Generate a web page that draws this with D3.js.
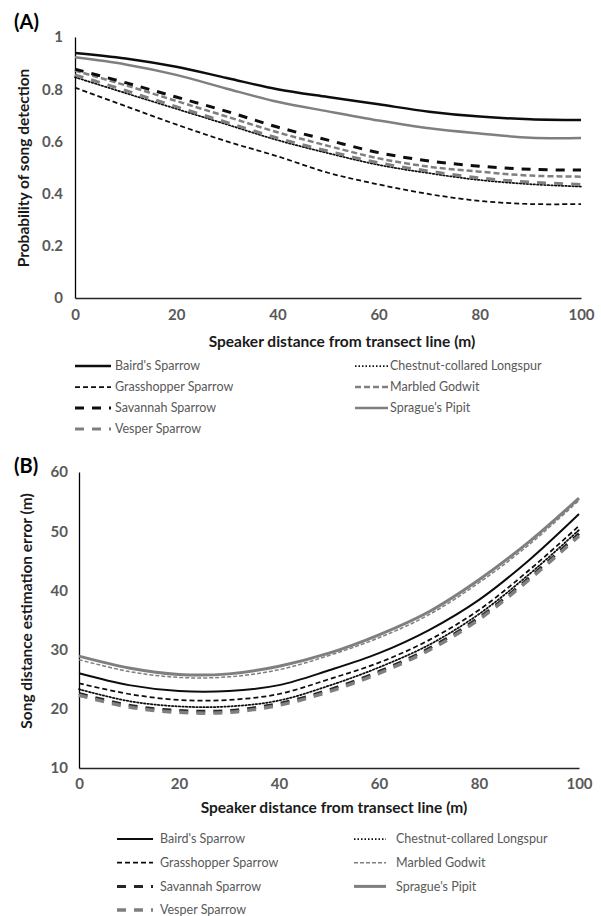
<!DOCTYPE html>
<html><head><meta charset="utf-8">
<script src="https://cdn.jsdelivr.net/npm/d3@7"></script>
<style>
body{margin:0;background:#fff}
svg{display:block;background:#fff}
text{font-family:Lato,"Open Sans",sans-serif}
</style>
</head><body>
<svg id="chart" width="601" height="916"></svg>
<script>
// ---------- data ----------
const distances = [0, 10, 20, 30, 40, 50, 60, 70, 80, 90, 100];
const species = ["Baird's Sparrow", "Chestnut-collared Longspur", "Grasshopper Sparrow",
                 "Marbled Godwit", "Savannah Sparrow", "Sprague's Pipit", "Vesper Sparrow"];

// (A) probability of song detection
const detBaird     = [0.939, 0.918, 0.886, 0.843, 0.800, 0.770, 0.742, 0.714, 0.695, 0.685, 0.682];
const detChestnut  = [0.846, 0.785, 0.725, 0.665, 0.605, 0.555, 0.510, 0.478, 0.452, 0.436, 0.427];
const detGrass     = [0.806, 0.735, 0.665, 0.600, 0.543, 0.480, 0.435, 0.398, 0.372, 0.360, 0.360];
const detMarbled   = [0.871, 0.815, 0.755, 0.695, 0.635, 0.583, 0.535, 0.503, 0.484, 0.469, 0.465];
const detSavannah  = [0.877, 0.825, 0.770, 0.715, 0.655, 0.605, 0.557, 0.525, 0.505, 0.493, 0.490];
const detSprague   = [0.922, 0.895, 0.855, 0.802, 0.752, 0.715, 0.680, 0.650, 0.630, 0.614, 0.613];
const detVesper    = [0.855, 0.795, 0.733, 0.673, 0.613, 0.563, 0.518, 0.486, 0.460, 0.444, 0.435];

// (B) song distance estimation error (m)
const errBaird     = [26.0, 24.0, 23.0, 23.0, 24.0, 26.5, 29.4, 33.3, 38.4, 45.1, 52.9];
const errChestnut  = [23.3, 21.3, 20.4, 20.4, 21.4, 23.9, 27.0, 30.8, 36.0, 42.7, 50.2];
const errGrass     = [24.3, 22.5, 21.5, 21.5, 22.5, 25.0, 27.8, 31.6, 36.7, 43.4, 50.9];
const errMarbled   = [28.3, 26.3, 25.3, 25.4, 26.6, 29.0, 32.0, 35.9, 41.3, 47.7, 55.2];
const errSavannah  = [22.6, 20.6, 19.7, 19.7, 20.9, 23.2, 26.3, 30.2, 35.4, 42.1, 49.6];
const errSprague   = [28.9, 26.9, 25.8, 25.9, 27.2, 29.4, 32.5, 36.4, 41.8, 48.2, 55.6];
const errVesper    = [22.3, 20.3, 19.4, 19.4, 20.6, 22.9, 26.0, 29.9, 35.1, 41.8, 49.2];

const detTicks  = [0, 0.2, 0.4, 0.6, 0.8, 1];
const errTicks  = [10, 20, 30, 40, 50, 60];
const distTicks = [0, 20, 40, 60, 80, 100];

const detectionSeries = [detBaird, detChestnut, detGrass, detMarbled, detSavannah, detSprague, detVesper];
const errorSeries     = [errBaird, errChestnut, errGrass, errMarbled, errSavannah, errSprague, errVesper];

// ---------- styles ----------
const BLACK = "#0d0d0d", GRAY = "#7f7f7f";
const stylesA = [
  {c: BLACK, w: 2.5,  d: null},
  {c: BLACK, w: 1.75, d: "1.5,2"},
  {c: BLACK, w: 1.75, d: "5,3"},
  {c: GRAY,  w: 2.5,  d: "6,3"},
  {c: BLACK, w: 3,    d: "9,8"},
  {c: GRAY,  w: 2.5,  d: null},
  {c: GRAY,  w: 3,    d: "9,8"}
];
const stylesB = [
  {c: BLACK, w: 2,    d: null},
  {c: BLACK, w: 1.75, d: "1.5,2"},
  {c: BLACK, w: 1.75, d: "5,3"},
  {c: GRAY,  w: 1.5,  d: "4,2"},
  {c: "#262626", w: 3, d: "9,8"},
  {c: GRAY,  w: 3,    d: null},
  {c: GRAY,  w: 3.5,  d: "9,8"}
];

const svg = d3.select("#chart");

function drawPanel(cfg) {
  const g = svg.append("g");
  const x = d3.scaleLinear().domain([0, 100]).range([cfg.left, cfg.right]);
  const y = d3.scaleLinear().domain(cfg.yDomain).range([cfg.bottom, cfg.top]);

  // y axis
  const ya = g.append("g").attr("transform", `translate(${cfg.left},0)`)
    .call(d3.axisLeft(y).tickValues(cfg.yTicks).tickSize(0).tickPadding(cfg.yPad).tickFormat(d => String(d)));
  ya.select(".domain").attr("stroke", "#000").attr("stroke-width", 1.3);
  ya.selectAll("text").attr("font-size", 15).attr("font-weight", "bold").attr("fill", "#595959")
    .attr("font-family", "Lato, sans-serif");

  // x axis
  const xa = g.append("g").attr("transform", `translate(0,${cfg.bottom})`)
    .call(d3.axisBottom(x).tickValues(distTicks).tickSize(0).tickPadding(cfg.xPad).tickFormat(d => String(d)));
  xa.select(".domain").attr("stroke", "#262626").attr("stroke-width", 1.3);
  xa.selectAll("text").attr("font-size", 15).attr("font-weight", "bold").attr("fill", "#595959")
    .attr("font-family", "Lato, sans-serif");

  // lines
  const line = d3.line().x((d, i) => x(distances[i])).y(d => y(d)).curve(d3.curveCatmullRom.alpha(0.5));
  cfg.series.forEach((s, i) => {
    const st = cfg.styles[i];
    g.append("path").datum(s).attr("d", line)
      .attr("fill", "none").attr("stroke", st.c).attr("stroke-width", st.w)
      .attr("stroke-dasharray", st.d).attr("stroke-linecap", st.d === "1.5,2" ? "round" : "butt");
  });

  // panel label
  g.append("text").attr("x", 14).attr("y", cfg.labelY).text(cfg.label)
    .attr("font-size", 20).attr("font-weight", "bold").attr("fill", "#000");

  // axis titles
  g.append("text").attr("x", cfg.xTitleX).attr("y", cfg.xTitleY).attr("text-anchor", "middle")
    .attr("font-size", 15.5).attr("font-weight", "bold").attr("fill", "#1a1a1a")
    .text("Speaker distance from transect line (m)");
  g.append("text").attr("transform", `translate(${cfg.yTitleX},${cfg.yTitleY}) rotate(-90)`)
    .attr("text-anchor", "middle").attr("dy", "0.35em")
    .attr("font-size", 15.5).attr("font-weight", "bold").attr("fill", "#1a1a1a")
    .text(cfg.yTitle);

  // legend
  species.forEach((name, i) => {
    const col = i % 2, row = Math.floor(i / 2);
    const lx = cfg.legX[col], ly = cfg.legY0 + row * cfg.legDy;
    const st = cfg.styles[i];
    g.append("line").attr("x1", lx).attr("x2", lx + cfg.legLen[col]).attr("y1", ly).attr("y2", ly)
      .attr("stroke", st.c).attr("stroke-width", st.w).attr("stroke-dasharray", st.d);
    g.append("text").attr("x", lx + cfg.legText[col]).attr("y", ly).attr("dy", "0.35em")
      .attr("font-size", 12.5).attr("fill", "#595959").text(name);
  });
}

drawPanel({
  label: "(A)", labelY: 29,
  left: 75, right: 581, top: 37, bottom: 298,
  yDomain: [0, 1], yTicks: detTicks, yPad: 12, xPad: 11,
  series: detectionSeries, styles: stylesA,
  xTitleX: 342, xTitleY: 347,
  yTitle: "Probability of song detection", yTitleX: 24, yTitleY: 168,
  legX: [75, 355], legLen: [36, 33], legText: [40, 35], legY0: 366, legDy: 21
});

drawPanel({
  label: "(B)", labelY: 473,
  left: 79, right: 579, top: 472, bottom: 768,
  yDomain: [10, 60], yTicks: errTicks, yPad: 11, xPad: 10,
  series: errorSeries, styles: stylesB,
  xTitleX: 334, xTitleY: 813,
  yTitle: "Song distance estimation error (m)", yTitleX: 27, yTitleY: 611,
  legX: [117, 354], legLen: [36, 32], legText: [43, 42], legY0: 839, legDy: 23.7
});
</script>
</body></html>
